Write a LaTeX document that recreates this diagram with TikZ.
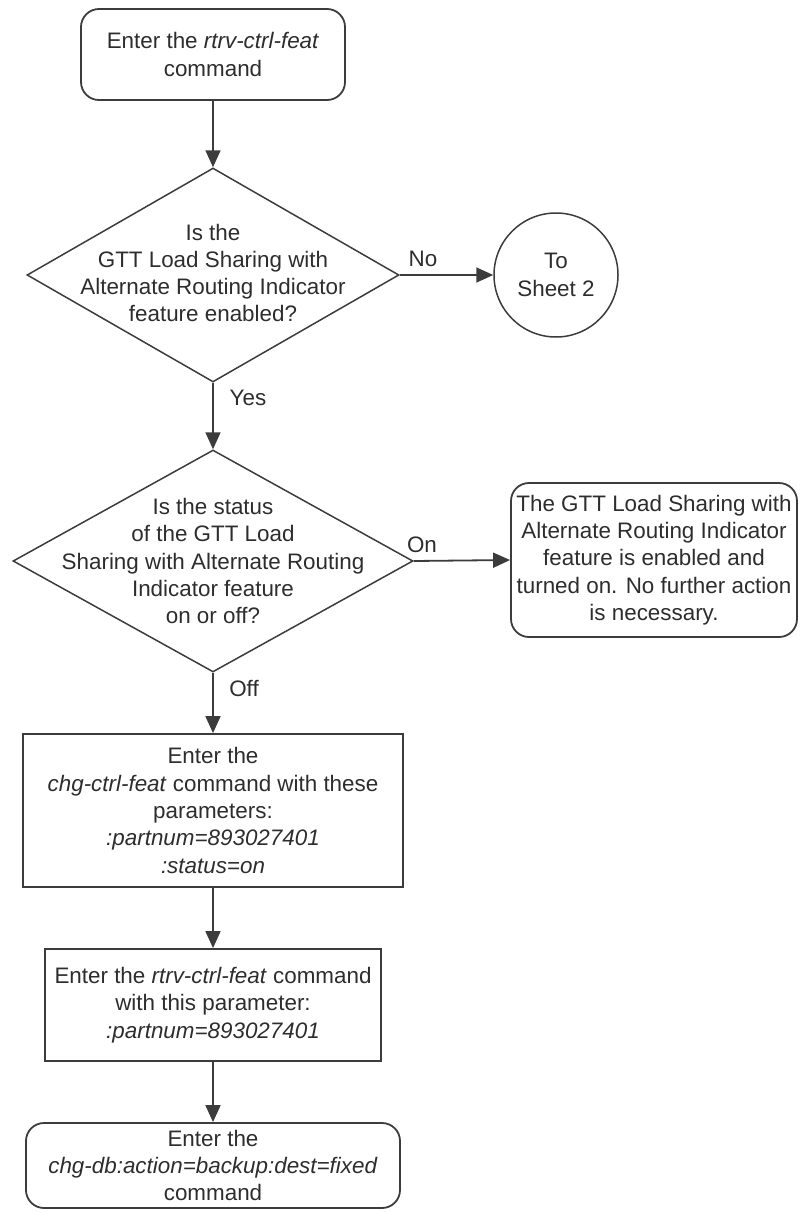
\documentclass[tikz,border=0pt]{standalone}
\usepackage{fontspec}
\setmainfont{Liberation Sans}
\usetikzlibrary{shapes.geometric,arrows.meta}
\definecolor{ln}{RGB}{60,60,60}
\definecolor{tx}{RGB}{45,45,45}
\begin{document}
\begin{tikzpicture}[x=1pt,y=-1pt,
  every node/.style={font=\fontsize{22.4}{27.3}\selectfont, text=tx},
  rbox/.style={draw=ln, line width=1.8pt, rounded corners=18pt, inner sep=0pt, align=center},
  pbox/.style={draw=ln, line width=1.8pt, inner sep=0pt, align=center},
  dia/.style={draw=ln, line width=1.5pt, shape=diamond, inner sep=0pt},
  txt/.style={align=center, inner sep=0pt},
  lbl/.style={inner sep=0pt},
  conn/.style={draw=ln, line width=1.8pt, -{Triangle[length=17pt,width=15pt]}}]
\useasboundingbox (0,0) rectangle (802,1213);
\node[rbox, minimum width=264pt, minimum height=91pt] (start) at (213,54.5)
  {Enter the \textit{rtrv-ctrl-feat}\\command};
\node[dia, minimum width=372pt, minimum height=214pt] (d1) at (213,275) {};
\node[txt] (d1t) at (213,273) {Is the\\GTT Load Sharing with\\Alternate Routing Indicator\\feature enabled?};
\node[draw=ln, line width=1.5pt, circle, minimum size=124pt, inner sep=0pt, align=center] (sheet) at (556,275) {To\\Sheet 2};
\node[dia, minimum width=400pt, minimum height=222pt] (d2) at (213,561) {};
\node[txt] (d2t) at (213,561) {Is the status\\of the GTT Load\\Sharing with Alternate Routing\\Indicator feature\\on or off?};
\node[rbox, minimum width=286pt, minimum height=154pt] (done) at (654,560)
  {The GTT Load Sharing with\\Alternate Routing Indicator\\feature is enabled and\\turned on. No further action\\is necessary.};
\node[pbox, minimum width=380pt, minimum height=153pt] (chg) at (213,810.5)
  {Enter the\\\textit{chg-ctrl-feat} command with these\\parameters:\\\textit{:partnum=893027401}\\\textit{:status=on}};
\node[pbox, minimum width=336pt, minimum height=112pt] (rtrv) at (213,1005)
  {Enter the \textit{rtrv-ctrl-feat} command\\with this parameter:\\\textit{:partnum=893027401}};
\node[rbox, minimum width=374pt, minimum height=85pt] (backup) at (213,1165.5)
  {Enter the\\\textit{chg-db:action=backup:dest=fixed}\\command};
\draw[conn] (start) -- (d1);
\draw[conn] (d1.east) -- (sheet.west);
\draw[conn] (d1.south) -- (d2.north);
\draw[conn] (d2.east) -- (done.west);
\draw[conn] (d2.south) -- (chg.north);
\draw[conn] (chg) -- (rtrv);
\draw[conn] (rtrv) -- (backup);
\node[lbl] (no) at (423,259) {No};
\node[lbl] (yes) at (248,398) {Yes};
\node[lbl] (on) at (422,545) {On};
\node[lbl] (off) at (244,688) {Off};
\end{tikzpicture}
\end{document}
